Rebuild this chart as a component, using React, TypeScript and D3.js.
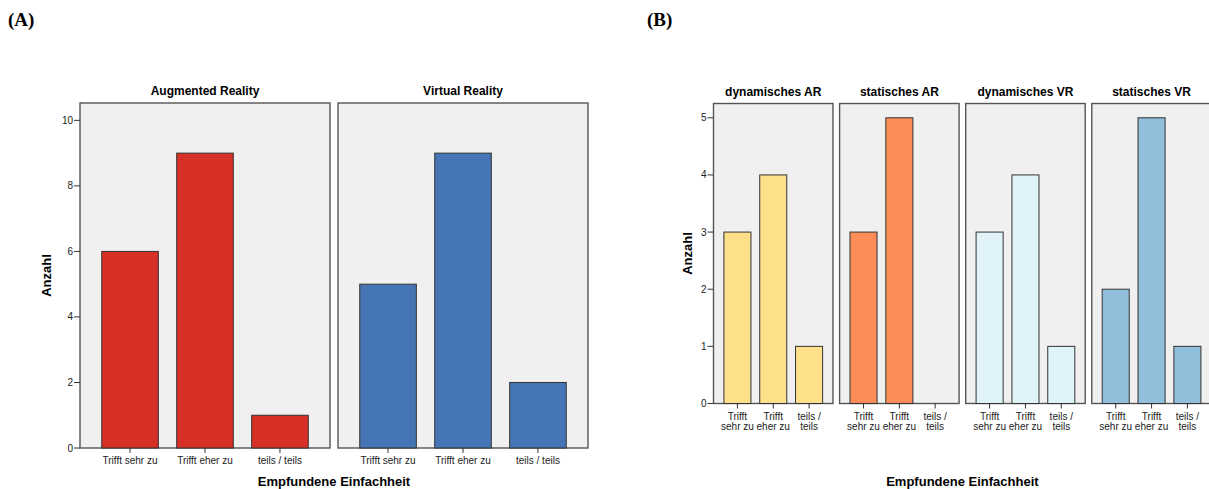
import React, { useEffect, useRef } from "react";
import * as d3 from "d3";

// --- data ---
const categories = ["Trifft sehr zu", "Trifft eher zu", "teils / teils"];
const categoryLinesB = [["Trifft", "sehr zu"], ["Trifft", "eher zu"], ["teils /", "teils"]];

const panelsA = ["Augmented Reality", "Virtual Reality"];
const valuesA = [
  [6, 9, 1],
  [5, 9, 2],
];
const colorsA = ["#d73027", "#4575b4"];
const ticksA = [0, 2, 4, 6, 8, 10];

const panelsB = ["dynamisches AR", "statisches AR", "dynamisches VR", "statisches VR"];
const valuesB = [
  [3, 4, 1],
  [3, 5, 0],
  [3, 4, 1],
  [2, 5, 1],
];
const colorsB = ["#fee08b", "#fc8d59", "#e0f3f8", "#91bfdb"];
const ticksB = [0, 1, 2, 3, 4, 5];

const FONT = "'Liberation Sans', Arial, sans-serif";

export default function App() {
  const svgRef = useRef<SVGSVGElement | null>(null);

  useEffect(() => {
    const svg = d3.select(svgRef.current);
    svg.selectAll("*").remove();

    // one faceted bar chart (panels side by side, shared y axis)
    function facet(opts: {
      left: number; panelW: number; gap: number; top: number; bottom: number;
      yMax: number; ticks: number[]; titles: string[]; values: number[][];
      colors: string[]; twoLine: boolean; yLabelX: number;
    }) {
      const g = svg.append("g");
      const y = d3.scaleLinear().domain([0, opts.yMax]).range([opts.bottom, opts.top]);
      const n = opts.titles.length;

      opts.titles.forEach((title, i) => {
        const x0 = opts.left + i * (opts.panelW + opts.gap);
        const x = d3.scaleBand<string>()
          .domain(categories)
          .range([x0, x0 + opts.panelW])
          .paddingInner(0.245)
          .paddingOuter(0.29);

        g.append("rect")
          .attr("x", x0).attr("y", opts.top)
          .attr("width", opts.panelW).attr("height", opts.bottom - opts.top)
          .attr("fill", "#f0f0f0")
          .attr("stroke", "#555").attr("stroke-width", 1.4);

        g.append("text")
          .attr("x", x0 + opts.panelW / 2).attr("y", opts.top - 8)
          .attr("text-anchor", "middle")
          .attr("font-family", FONT).attr("font-weight", "bold").attr("font-size", 12)
          .text(title);

        const bars = categories
          .map((c, j) => ({ c, v: opts.values[i][j] }))
          .filter(d => d.v > 0);

        g.selectAll(null)
          .data(bars)
          .join("rect")
          .attr("x", d => x(d.c)!)
          .attr("y", d => y(d.v))
          .attr("width", x.bandwidth())
          .attr("height", d => opts.bottom - y(d.v))
          .attr("fill", opts.colors[i])
          .attr("stroke", "#333").attr("stroke-width", 1);

        categories.forEach((c, j) => {
          const cx = x(c)! + x.bandwidth() / 2;
          g.append("line")
            .attr("x1", cx).attr("x2", cx)
            .attr("y1", opts.bottom).attr("y2", opts.bottom + 5)
            .attr("stroke", "#333");
          const t = g.append("text")
            .attr("x", cx).attr("y", opts.bottom + 16)
            .attr("text-anchor", "middle")
            .attr("font-family", FONT).attr("font-size", 10)
            .attr("fill", "#222");
          if (opts.twoLine) {
            categoryLinesB[j].forEach((line, k) => {
              t.append("tspan").attr("x", cx).attr("dy", k === 0 ? 0 : 10.5).text(line);
            });
          } else {
            t.text(c);
          }
        });
      });

      // y axis ticks on the first panel
      opts.ticks.forEach(t => {
        g.append("line")
          .attr("x1", opts.left - 6).attr("x2", opts.left)
          .attr("y1", y(t)).attr("y2", y(t))
          .attr("stroke", "#333");
        g.append("text")
          .attr("x", opts.left - 7).attr("y", y(t) + 3.5)
          .attr("text-anchor", "end")
          .attr("font-family", FONT).attr("font-size", 10).attr("fill", "#222")
          .text(t);
      });

      const right = opts.left + n * opts.panelW + (n - 1) * opts.gap;
      g.append("text")
        .attr("transform", `translate(${opts.yLabelX},${(opts.top + opts.bottom) / 2}) rotate(-90)`)
        .attr("text-anchor", "middle")
        .attr("font-family", FONT).attr("font-weight", "bold").attr("font-size", 13)
        .text("Anzahl");
      g.append("text")
        .attr("x", (opts.left + right) / 2).attr("y", 486)
        .attr("text-anchor", "middle")
        .attr("font-family", FONT).attr("font-weight", "bold").attr("font-size", 13)
        .text("Empfundene Einfachheit");
    }

    facet({
      left: 80, panelW: 250, gap: 8, top: 103, bottom: 448,
      yMax: 10.53, ticks: ticksA, titles: panelsA, values: valuesA,
      colors: colorsA, twoLine: false, yLabelX: 51,
    });
    facet({
      left: 713.5, panelW: 119.5, gap: 6.6, top: 103.5, bottom: 403.5,
      yMax: 5.25, ticks: ticksB, titles: panelsB, values: valuesB,
      colors: colorsB, twoLine: true, yLabelX: 692,
    });

    [["(A)", 8], ["(B)", 647]].forEach(([lbl, lx]) => {
      svg.append("text")
        .attr("x", lx as number).attr("y", 26)
        .attr("font-family", "'Liberation Serif', 'Times New Roman', serif")
        .attr("font-weight", "bold").attr("font-size", 19)
        .text(lbl as string);
    });
  }, []);

  return (
    <svg
      ref={svgRef}
      width={1209}
      height={489}
      style={{ position: "absolute", left: 0, top: 0, background: "#fff" }}
    />
  );
}
